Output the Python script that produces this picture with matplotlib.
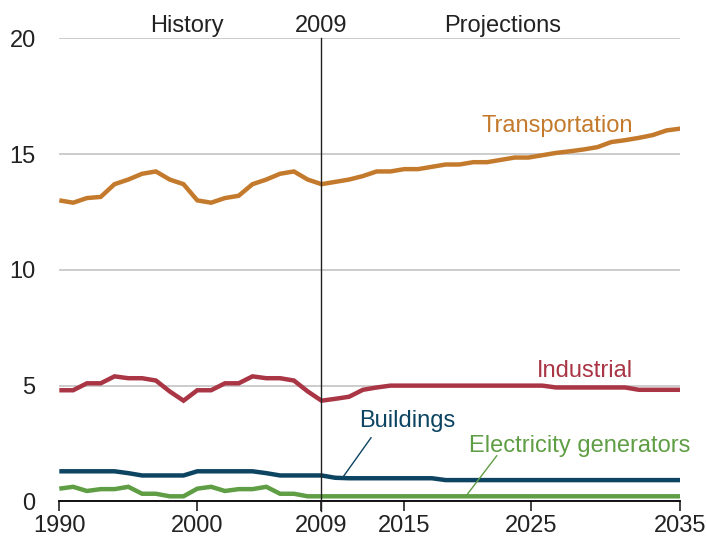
import matplotlib.pyplot as plt

plt.rcParams['font.family'] = ['Liberation Sans', 'DejaVu Sans']

# Años: historia 1990-2009 y proyecciones 2009-2035
hist_years = list(range(1990, 2010))
proj_years = list(range(2009, 2036))
years = hist_years + proj_years[1:]

transport_hist = [13.0, 12.9, 13.1, 13.15, 13.7, 13.9, 14.15, 14.25, 13.9, 13.7,
                  13.0, 12.9, 13.1, 13.2, 13.7, 13.9, 14.15, 14.25, 13.9, 13.7]
transport_proj = [13.8, 13.9, 14.05, 14.25, 14.25, 14.35, 14.35, 14.45, 14.55, 14.55,
                  14.65, 14.65, 14.75, 14.85, 14.85, 14.95, 15.05, 15.12, 15.2, 15.3,
                  15.52, 15.6, 15.7, 15.82, 16.02, 16.1]

industrial_hist = [4.8, 4.8, 5.1, 5.1, 5.4, 5.32, 5.32, 5.22, 4.75, 4.35,
                   4.8, 4.8, 5.1, 5.1, 5.4, 5.32, 5.32, 5.22, 4.75, 4.35]
industrial_proj = [4.43, 4.52, 4.82, 4.92, 5.0, 5.0, 5.0, 5.0, 5.0, 5.0,
                   5.0, 5.0, 5.0, 5.0, 5.0, 5.0, 4.92, 4.92, 4.92, 4.92,
                   4.92, 4.92, 4.82, 4.82, 4.82, 4.82]

buildings_hist = [1.3, 1.3, 1.3, 1.3, 1.3, 1.22, 1.12, 1.12, 1.12, 1.12,
                  1.3, 1.3, 1.3, 1.3, 1.3, 1.22, 1.12, 1.12, 1.12, 1.12]
buildings_proj = [1.02, 1.0, 1.0, 1.0, 1.0, 1.0, 1.0, 1.0, 0.92, 0.92,
                  0.92, 0.92, 0.92, 0.92, 0.92, 0.92, 0.92, 0.92, 0.92, 0.92,
                  0.92, 0.92, 0.92, 0.92, 0.92, 0.92]

electric_hist = [0.55, 0.63, 0.45, 0.53, 0.53, 0.63, 0.33, 0.33, 0.22, 0.22,
                 0.55, 0.63, 0.45, 0.53, 0.53, 0.63, 0.33, 0.33, 0.22, 0.22]
electric_proj = [0.22] * 26

series = [
    ('Transportation', transport_hist + transport_proj, '#C47A2C'),
    ('Industrial', industrial_hist + industrial_proj, '#A93545'),
    ('Buildings', buildings_hist + buildings_proj, '#0C4462'),
    ('Electricity generators', electric_hist + electric_proj, '#5F9E44'),
]

tick_pos = [1990, 2000, 2009, 2015, 2024.2, 2035]
tick_labels = ['1990', '2000', '2009', '2015', '2025', '2035']

fs = 17

fig = plt.figure(figsize=(7.07, 5.41), dpi=100)
ax = fig.add_axes([0.0839, 0.0732, 0.8783, 0.856])

for name, vals, color in series:
    ax.plot(years, vals, color=color, linewidth=3.2, solid_capstyle='butt',
            solid_joinstyle='miter', zorder=3)

ax.set_xlim(1990, 2035)
ax.set_ylim(0, 20)
ax.set_yticks([0, 5, 10, 15, 20])
ax.yaxis.grid(True, color='#c4c4c4', linewidth=1.2, zorder=0)
ax.set_axisbelow(True)

ax.set_xticks(tick_pos)
ax.set_xticklabels(tick_labels)
ax.tick_params(axis='x', direction='out', length=7, width=1.2, pad=3,
               labelsize=fs, colors='#222222')
ax.tick_params(axis='y', length=0, pad=17, labelsize=fs, labelcolor='#222222')

for s in ['top', 'right', 'left']:
    ax.spines[s].set_visible(False)
ax.spines['bottom'].set_linewidth(1.3)
ax.spines['bottom'].set_zorder(4)

# línea divisoria historia / proyecciones
ax.plot([2009, 2009], [-0.4, 20], color='#222222', linewidth=1.0,
        clip_on=False, zorder=5)

ax.text(1999.25, 20.26, 'History', ha='center', va='baseline', fontsize=fs, color='#222222')
ax.text(2009, 20.26, '2009', ha='center', va='baseline', fontsize=fs, color='#222222')
ax.text(2022.15, 20.26, 'Projections', ha='center', va='baseline', fontsize=fs, color='#222222')

# etiquetas de cada serie
ax.text(2031.6, 15.96, 'Transportation', ha='right', va='baseline', fontsize=fs, color='#C47A2C')
ax.text(2031.6, 5.39, 'Industrial', ha='right', va='baseline', fontsize=fs, color='#A93545')
ax.text(2011.74, 3.23, 'Buildings', ha='left', va='baseline', fontsize=fs, color='#0C4462')
ax.text(2035.7, 2.15, 'Electricity generators', ha='right', va='baseline', fontsize=fs,
        color='#5F9E44', clip_on=False)

ax.plot([2010.58, 2012.59], [1.07, 2.75], color='#0C4462', linewidth=1.0, zorder=4)
ax.plot([2019.57, 2021.7], [0.31, 1.97], color='#5F9E44', linewidth=1.0, zorder=4)

fig.savefig('out.png', dpi=100)
